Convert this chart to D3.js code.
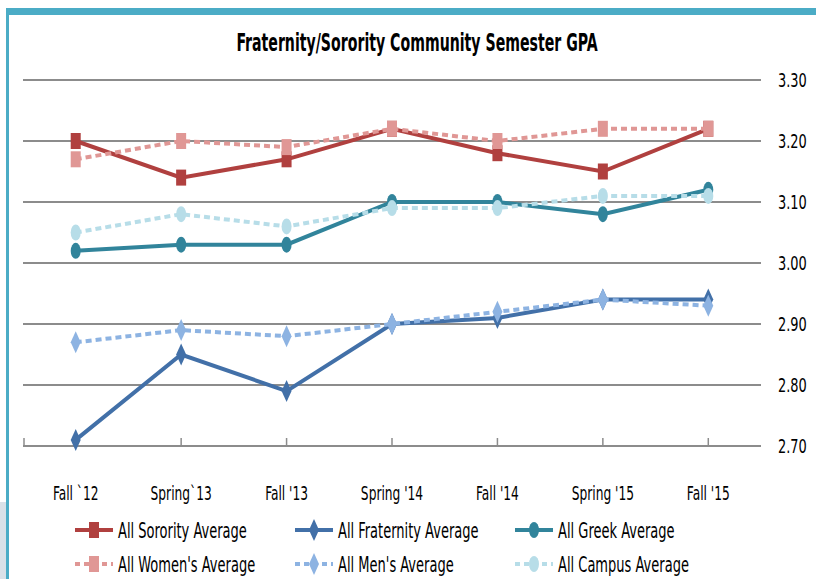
<!DOCTYPE html>
<html>
<head>
<meta charset="utf-8">
<script src="https://cdn.jsdelivr.net/npm/d3@7"></script>
<style>
  body { margin: 0; background: #fff; }
  text { font-family: "DejaVu Sans Condensed", "Liberation Sans Narrow", sans-serif; fill: #000; }
</style>
</head>
<body>
<svg id="chart" width="816" height="579"></svg>
<script>
// semesters along the x axis
const semesters = ["Fall `12", "Spring`13", "Fall '13", "Spring '14", "Fall '14", "Spring '15", "Fall '15"];
const yTicks = [2.70, 2.80, 2.90, 3.00, 3.10, 3.20, 3.30];

// GPA values
const sorority = [3.20, 3.14, 3.17, 3.22, 3.18, 3.15, 3.22];
const fraternity = [2.71, 2.85, 2.79, 2.90, 2.91, 2.94, 2.94];
const greek = [3.02, 3.03, 3.03, 3.10, 3.10, 3.08, 3.12];
const women = [3.17, 3.20, 3.19, 3.22, 3.20, 3.22, 3.22];
const men = [2.87, 2.89, 2.88, 2.90, 2.92, 2.94, 2.93];
const campus = [3.05, 3.08, 3.06, 3.09, 3.09, 3.11, 3.11];

const series = [
  { name: "All Sorority Average", values: sorority, color: "#b0403f", dash: null, marker: "square" },
  { name: "All Fraternity Average", values: fraternity, color: "#4270a8", dash: null, marker: "diamond" },
  { name: "All Greek Average", values: greek, color: "#31849b", dash: null, marker: "circle" },
  { name: "All Women's Average", values: women, color: "#e09795", dash: "6,4", marker: "square" },
  { name: "All Men's Average", values: men, color: "#8db3e2", dash: "6,4", marker: "diamond" },
  { name: "All Campus Average", values: campus, color: "#b7dde8", dash: "6,4", marker: "circle" }
];

const svg = d3.select("#chart");

// the font is squeezed sideways to look like the narrow original
function label(parent, tx, ty, str, size, sx, anchor) {
  return parent.append("text")
    .attr("transform", `translate(${tx},${ty}) scale(${sx},1)`)
    .attr("text-anchor", anchor || "start")
    .style("font-size", size + "px")
    .text(str);
}

// frame bits (teal border, grey corner)
svg.append("rect").attr("x", 0).attr("y", 502).attr("width", 6).attr("height", 77).attr("fill", "#d9e1e8");
svg.append("rect").attr("x", 6).attr("y", 8).attr("width", 810).attr("height", 7).attr("fill", "#4bacc6");
svg.append("rect").attr("x", 6).attr("y", 8).attr("width", 3).attr("height", 571).attr("fill", "#4bacc6");

label(svg, 417, 51, "Fraternity/Sorority Community Semester GPA", 24, 0.655, "middle")
  .style("font-weight", "bold");

const left = 23, right = 761;
const x = d3.scalePoint().domain(semesters).range([left, right]).padding(0.5);
const y = d3.scaleLinear().domain([2.70, 3.30]).range([446, 80]);

// grid lines
svg.append("g").selectAll("line")
  .data(yTicks)
  .join("line")
  .attr("x1", left).attr("x2", right)
  .attr("y1", d => y(d)).attr("y2", d => y(d))
  .attr("stroke", "#8c8c8c").attr("stroke-width", 2);

// y labels on the right
const yl = svg.append("g");
yTicks.forEach(d => label(yl, 778, y(d) + 7, d.toFixed(2), 20, 0.72));

// x ticks, pointing up from the axis
svg.append("g").selectAll("line")
  .data([null].concat(semesters))
  .join("line")
  .attr("x1", d => d === null ? left + 1 : x(d))
  .attr("x2", d => d === null ? left + 1 : x(d))
  .attr("y1", y(2.70) - 8).attr("y2", y(2.70))
  .attr("stroke", "#8c8c8c").attr("stroke-width", 1.5);

const xl = svg.append("g");
semesters.forEach(d => label(xl, x(d), 500, d, 20, 0.68, "middle"));

// marker shapes, stretched tall like the original
function drawMarker(g, type, color, cx, cy) {
  if (type === "square") {
    g.append("rect").attr("x", cx - 5).attr("y", cy - 8).attr("width", 10).attr("height", 16).attr("fill", color);
  } else if (type === "circle") {
    g.append("ellipse").attr("cx", cx).attr("cy", cy).attr("rx", 5).attr("ry", 8).attr("fill", color);
  } else {
    g.append("path")
      .attr("d", `M${cx},${cy - 11}L${cx + 5},${cy}L${cx},${cy + 11}L${cx - 5},${cy}Z`)
      .attr("fill", color);
  }
}

const line = d3.line().x((d, i) => x(semesters[i])).y(d => y(d));

series.forEach(s => {
  const g = svg.append("g");
  g.append("path")
    .datum(s.values)
    .attr("d", line)
    .attr("fill", "none")
    .attr("stroke", s.color)
    .attr("stroke-width", 4)
    .attr("stroke-dasharray", s.dash);
  s.values.forEach((v, i) => drawMarker(g, s.marker, s.color, x(semesters[i]), y(v)));
});

// legend, 3 columns x 2 rows
const legend = svg.append("g");
series.forEach((s, i) => {
  const lx = 75 + (i % 3) * 220;
  const ly = i < 3 ? 530 : 564;
  const g = legend.append("g");
  g.append("line")
    .attr("x1", lx).attr("x2", lx + 38)
    .attr("y1", ly).attr("y2", ly)
    .attr("stroke", s.color).attr("stroke-width", 4)
    .attr("stroke-dasharray", s.dash ? "5,4" : null);
  drawMarker(g, s.marker, s.color, lx + 19, ly);
  label(g, lx + 43, ly + 8, s.name, 21, 0.69);
});
</script>
</body>
</html>
